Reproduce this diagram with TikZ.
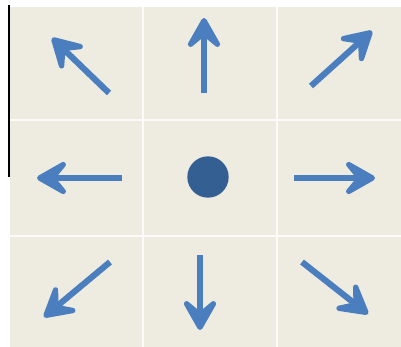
\documentclass[tikz,border=0pt]{standalone}
\usepackage{tikz}
\usepackage{xcolor}
\usetikzlibrary{arrows.meta}
\definecolor{panelbeige}{HTML}{EEEBE0}
\definecolor{arrowblue}{HTML}{4A7EBF}
\definecolor{dotblue}{HTML}{335F93}
\begin{document}
\begin{tikzpicture}[x=0.75pt, y=-0.75pt,
  gridline/.style={draw=white!80!panelbeige, line width=1pt},
  move/.style={draw=arrowblue, line width=4.6pt,
    -{Stealth[length=30pt, width=34pt, inset=14pt, round]}},
  centre/.style={circle, fill=dotblue, inner sep=0pt, minimum size=31pt},
]
\useasboundingbox (0,0) rectangle (401,347);
% panel and grid
\fill[panelbeige] (10,7) rectangle (401,347);
\draw[gridline] (143,7) -- (143,347);
\draw[gridline] (277,7) -- (277,347);
\draw[gridline] (10,120) -- (401,120);
\draw[gridline] (10,236) -- (401,236);
\draw[black, line width=1pt] (9,5) -- (9,177);
% centre dot
\node[centre] (dot) at (208,177) {};
% arrow ends
\coordinate (nwtail) at (109,93);  \coordinate (nwtip) at (52,38);
\coordinate (ntail) at (204,93);   \coordinate (ntip) at (204,18);
\coordinate (netail) at (311,86);  \coordinate (netip) at (372,31);
\coordinate (wtail) at (122,178);  \coordinate (wtip) at (37,178);
\coordinate (etail) at (294,178);  \coordinate (etip) at (375,178);
\coordinate (swtail) at (110,262); \coordinate (swtip) at (44,317);
\coordinate (stail) at (200,255);  \coordinate (stip) at (200,330);
\coordinate (setail) at (302,262); \coordinate (setip) at (368,314);
% arrows
\draw[move] (nwtail) -- (nwtip);
\draw[move] (ntail) -- (ntip);
\draw[move] (netail) -- (netip);
\draw[move] (wtail) -- (wtip);
\draw[move] (etail) -- (etip);
\draw[move] (swtail) -- (swtip);
\draw[move] (stail) -- (stip);
\draw[move] (setail) -- (setip);
\end{tikzpicture}
\end{document}
